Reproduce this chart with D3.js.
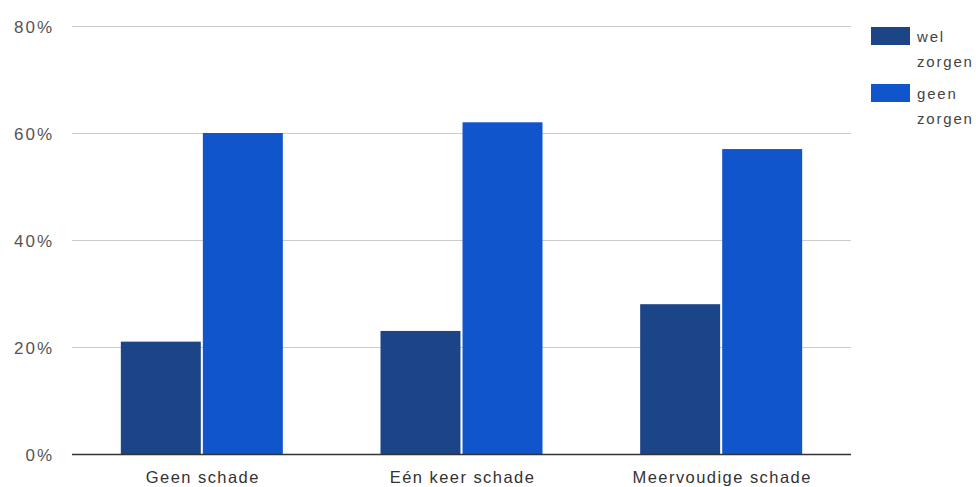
<!DOCTYPE html>
<html><head><meta charset="utf-8">
<script src="https://cdn.jsdelivr.net/npm/d3@7"></script>
<style>body{margin:0;background:#fff;} text{font-family:Arial,"Liberation Sans",sans-serif;}</style>
</head><body>
<svg id="c" width="976" height="487"></svg>
<script>
const categories = ["Geen schade", "Eén keer schade", "Meervoudige schade"];
const seriesNames = ["wel zorgen", "geen zorgen"];
const welZorgen = [21, 23, 28];
const geenZorgen = [60, 62, 57];
const yTicks = [0, 20, 40, 60, 80];
const legendLines = [["wel", "zorgen"], ["geen", "zorgen"]];
const colors = ["#1c4587", "#1155cc"];

(function () {
const svg = d3.select("#c");
const mLeft = 72, mRight = 851, mTop = 26, mBottom = 454;
const y = d3.scaleLinear().domain([0, 80]).range([mBottom, mTop]);
const x0 = d3.scaleBand().domain(categories).range([mLeft, mRight]).padding(0);
const gw = 162;
const x1 = d3.scaleBand().domain(seriesNames).range([0, gw]).paddingInner(0.025);

// gridlines
svg.append("g").selectAll("line").data(yTicks.filter(d => d > 0)).join("line")
  .attr("x1", mLeft).attr("x2", mRight)
  .attr("y1", d => Math.round(y(d)) + 0.5).attr("y2", d => Math.round(y(d)) + 0.5)
  .attr("stroke", "#cccccc").attr("stroke-width", 1);

// y labels
svg.append("g").selectAll("text").data(yTicks).join("text")
  .attr("x", 54).attr("y", d => y(d) + 6.5)
  .attr("text-anchor", "end").attr("font-size", 17).attr("fill", "#555")
  .attr("letter-spacing", 2)
  .text(d => d + "%");

// bars
const data = categories.map((c, i) => ({c, vals: [welZorgen[i], geenZorgen[i]]}));
const groups = svg.append("g").selectAll("g").data(data).join("g")
  .attr("transform", d => `translate(${x0(d.c) + (x0.bandwidth() - gw) / 2},0)`);
groups.selectAll("rect").data(d => d.vals.map((v, j) => ({s: seriesNames[j], v, j}))).join("rect")
  .attr("x", d => x1(d.s)).attr("width", x1.bandwidth())
  .attr("y", d => y(d.v)).attr("height", d => y(0) - y(d.v))
  .attr("fill", d => colors[d.j]);

// baseline
svg.append("line").attr("x1", mLeft).attr("x2", mRight)
  .attr("y1", mBottom + 0.5).attr("y2", mBottom + 0.5)
  .attr("stroke", "#333").attr("stroke-width", 1.5);

// x labels
svg.append("g").selectAll("text").data(categories).join("text")
  .attr("x", d => x0(d) + x0.bandwidth() / 2 + 1).attr("y", 483)
  .attr("text-anchor", "middle").attr("font-size", 16.5).attr("fill", "#333")
  .attr("letter-spacing", 1.45)
  .text(d => d);

// legend
const lg = svg.append("g").selectAll("g").data(seriesNames).join("g")
  .attr("transform", (d, i) => `translate(871,${27 + i * 57})`);
lg.append("rect").attr("width", 39).attr("height", 18).attr("fill", (d, i) => colors[i]);
lg.each(function(d, i) {
  const t = d3.select(this).append("text").attr("x", 46).attr("y", 15)
    .attr("font-size", 15).attr("fill", "#444").attr("letter-spacing", 1.8);
  legendLines[i].forEach((l, k) => t.append("tspan").attr("x", 46).attr("dy", k === 0 ? 0 : 25).text(l));
});
})();
</script>
</body></html>
